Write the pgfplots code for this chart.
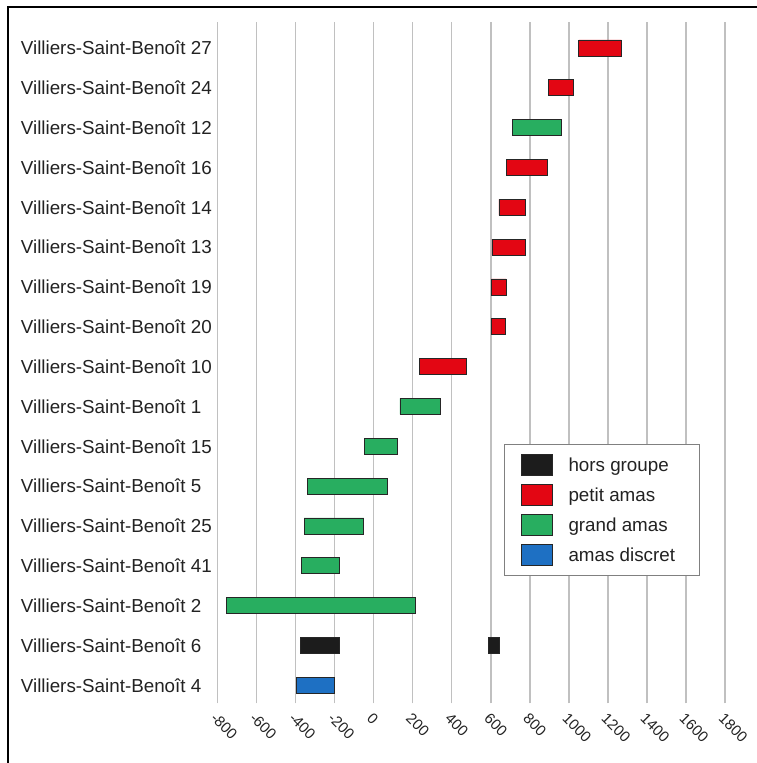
\documentclass[border=0pt]{standalone}
\usepackage{pgfplots}
\pgfplotsset{compat=1.18}
\usepackage{pgfplotstable}
\usepackage{fontspec}
\setmainfont{Liberation Sans}
\definecolor{cred}{RGB}{227,6,19}
\definecolor{cgreen}{RGB}{40,174,96}
\definecolor{cblue}{RGB}{30,112,195}
\definecolor{cblack}{RGB}{28,28,28}
\definecolor{cgrid}{RGB}{192,192,192}
\definecolor{ctext}{RGB}{34,34,34}

% y: row index (0 = bottom); lo = left end of first bar; then lengths
\pgfplotstableread{
y lo red green black blue gap blacktwo
0 -397 0 0 0 196 0 0
1 -377 0 0 204 0 760 59
2 -755 0 967 0 0 0 0
3 -368 0 194 0 0 0 0
4 -356 0 306 0 0 0 0
5 -338 0 411 0 0 0 0
6 -48 0 169 0 0 0 0
7 135 0 208 0 0 0 0
8 233 242 0 0 0 0 0
9 603 72 0 0 0 0 0
10 603 76 0 0 0 0 0
11 606 171 0 0 0 0 0
12 642 135 0 0 0 0 0
13 682 206 0 0 0 0 0
14 712 0 249 0 0 0 0
15 893 131 0 0 0 0 0
16 1051 217 0 0 0 0 0
}\bars

\pgfplotsset{myleg/.style={legend image code/.code={\draw[##1] (0bp,-10.5bp) rectangle (31bp,10.5bp);}}}

\begin{document}
\begin{tikzpicture}
\useasboundingbox (0,0) rectangle (757bp,763bp);
\begin{axis}[
  at={(217.3bp,59.7bp)}, anchor=south west,
  scale only axis, width=507.9bp, height=681.6bp,
  xmin=-800, xmax=1800, ymin=-0.452, ymax=16.66,
  xbar stacked, stack negative=on previous, bar width=16bp,
  axis line style={draw=none},
  tick style={draw=none},
  xmajorgrids, grid style={cgrid, line width=1.5bp},
  xtick={-800,-600,...,1800},
  xticklabels={-800,-600,-400,-200,0,200,400,600,800,1000,1200,1400,1600,1800},
  xticklabel shift=7bp,
  xticklabel style={rotate=-45, anchor=north west, inner sep=1bp,
    font=\fontsize{15bp}{18bp}\selectfont, text=ctext},
  ytick={0,...,16},
  yticklabels={Villiers-Saint-Benoît 4,Villiers-Saint-Benoît 6,Villiers-Saint-Benoît 2,Villiers-Saint-Benoît 41,Villiers-Saint-Benoît 25,Villiers-Saint-Benoît 5,Villiers-Saint-Benoît 15,Villiers-Saint-Benoît 1,Villiers-Saint-Benoît 10,Villiers-Saint-Benoît 20,Villiers-Saint-Benoît 19,Villiers-Saint-Benoît 13,Villiers-Saint-Benoît 14,Villiers-Saint-Benoît 16,Villiers-Saint-Benoît 12,Villiers-Saint-Benoît 24,Villiers-Saint-Benoît 27},
  yticklabel style={anchor=west, inner sep=0pt, xshift=-196.6bp,
    font=\fontsize{18.8bp}{22bp}\selectfont, text=ctext},
  legend style={at={(0.5645,0.38)}, anchor=north west, draw=black!50,
    line width=0.8bp, fill=white, inner xsep=16.7bp, inner ysep=9.6bp,
    row sep=8.2bp, column sep=15.6bp,
    font=\fontsize{18.8bp}{22bp}\selectfont, text=ctext,
    cells={anchor=west}, nodes={inner sep=0pt}},
]
\addlegendimage{myleg, fill=cblack, draw=black!85, line width=0.8bp}
\addlegendentry{\vphantom{dg}hors groupe}
\addlegendimage{myleg, fill=cred, draw=black!85, line width=0.8bp}
\addlegendentry{\vphantom{dg}petit amas}
\addlegendimage{myleg, fill=cgreen, draw=black!85, line width=0.8bp}
\addlegendentry{\vphantom{dg}grand amas}
\addlegendimage{myleg, fill=cblue, draw=black!85, line width=0.8bp}
\addlegendentry{\vphantom{dg}amas discret\rule{8bp}{0pt}}

\addplot[draw=none, fill=none] table[x=lo, y=y]{\bars};
\addplot[fill=cred, draw=black!85, line width=0.8bp] table[x=red, y=y]{\bars};
\addplot[fill=cgreen, draw=black!85, line width=0.8bp] table[x=green, y=y]{\bars};
\addplot[fill=cblack, draw=black!85, line width=0.8bp] table[x=black, y=y]{\bars};
\addplot[fill=cblue, draw=black!85, line width=0.8bp] table[x=blue, y=y]{\bars};
\addplot[draw=none, fill=none] table[x=gap, y=y]{\bars};
\addplot[fill=cblack, draw=black!85, line width=0.8bp] table[x=blacktwo, y=y]{\bars};
\end{axis}
\draw[line width=2bp, black] (8.3bp,0) -- (8.3bp,755.7bp) -- (757bp,755.7bp);
\end{tikzpicture}
\end{document}
